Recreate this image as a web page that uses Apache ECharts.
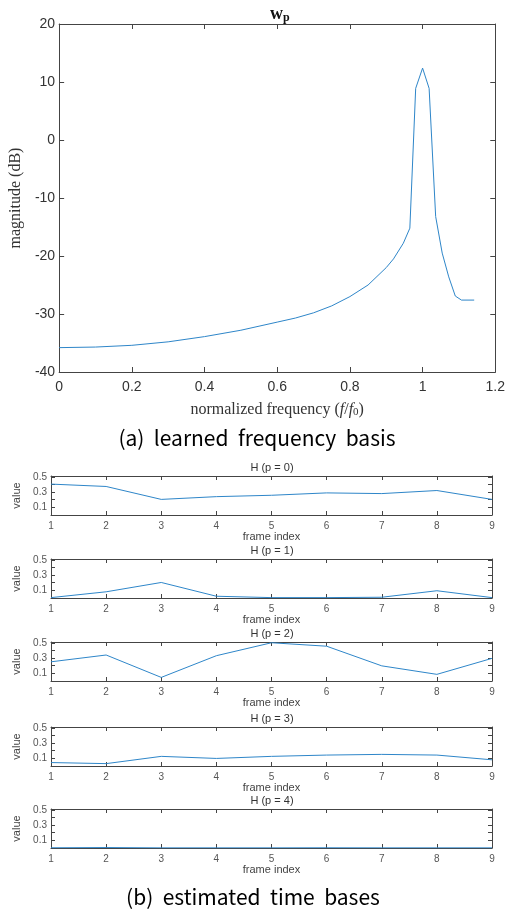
<!DOCTYPE html>
<html>
<head>
<meta charset="utf-8">
<script src="https://cdn.jsdelivr.net/npm/echarts@6/dist/echarts.min.js"></script>
<style>
  html, body { margin: 0; padding: 0; background: #fff; }
  #main { width: 508px; height: 912px; }
</style>
</head>
<body>
<div id="main"></div>
<script>
// (a) learned frequency basis
var freq = [0, 0.1, 0.2, 0.3, 0.4, 0.5, 0.55, 0.6, 0.65, 0.7, 0.75, 0.8, 0.85, 0.9, 0.92, 0.947, 0.965,
            0.981, 1.0, 1.018, 1.036, 1.054, 1.072, 1.09, 1.107, 1.125, 1.142];
var magDb = [-35.8, -35.7, -35.4, -34.8, -33.9, -32.8, -32.1, -31.4, -30.7, -29.8, -28.6, -27.0, -25.0, -22.0, -20.5, -17.8, -15.2,
             8.9, 12.4, 8.9, -13.2, -19.5, -23.6, -26.9, -27.6, -27.6, -27.6];
var freqTicks = [0, 0.2, 0.4, 0.6, 0.8, 1, 1.2];
var magTicks = [-40, -30, -20, -10, 0, 10, 20];

// (b) estimated time bases
var frames = [1, 2, 3, 4, 5, 6, 7, 8, 9];
var H0 = [0.404, 0.373, 0.204, 0.24, 0.258, 0.289, 0.28, 0.32, 0.204];
var H1 = [0.005, 0.081, 0.203, 0.023, 0.005, 0.005, 0.01, 0.095, 0.005];
var H2 = [0.251, 0.34, 0.047, 0.331, 0.5, 0.455, 0.198, 0.087, 0.296];
var H3 = [0.045, 0.031, 0.126, 0.099, 0.126, 0.143, 0.152, 0.143, 0.081];
var H4 = [0.003, 0.006, 0.002, 0.002, 0.002, 0.003, 0.002, 0.002, 0.002];
var valueTicks = [0.1, 0.3, 0.5];
var hList = [H0, H1, H2, H3, H4];
var hTitles = ['H (p = 0)', 'H (p = 1)', 'H (p = 2)', 'H (p = 3)', 'H (p = 4)'];

var lineColor = '#2e86c9';
var axisColor = '#444';
var textColor = '#333';
var sans = "'Liberation Sans', Arial, sans-serif";
var serif = "'Liberation Serif', 'Times New Roman', serif";

var grids = [], xAxes = [], yAxes = [], series = [], graphics = [];

function pairs(xs, ys) {
    var out = [];
    for (var i = 0; i < xs.length; i++) out.push([xs[i], ys[i]]);
    return out;
}

function addAxes(gi, xo, yo) {
    // bottom / left axes with labels, top / right mirrors with ticks only (box look)
    var xb = Object.assign({ gridIndex: gi, type: 'value', position: 'bottom' }, xo);
    var xt = Object.assign({}, xb, { position: 'top', name: '', axisLabel: { show: false } });
    var yl = Object.assign({ gridIndex: gi, type: 'value', position: 'left' }, yo);
    var yr = Object.assign({}, yl, { position: 'right', name: '', axisLabel: { show: false } });
    xAxes.push(xb, xt);
    yAxes.push(yl, yr);
}

function common(tickLen) {
    return {
        axisLine: { show: true, onZero: false, lineStyle: { color: axisColor, width: 1 } },
        axisTick: { show: true, inside: true, length: tickLen, lineStyle: { color: axisColor } },
        splitLine: { show: false }
    };
}

// top plot
grids.push({ left: 57, top: 24, width: 441, height: 348 });
addAxes(0,
    Object.assign(common(5), {
        min: 0, max: 1.2, interval: 0.2,
        axisLabel: { color: textColor, fontSize: 14, fontFamily: sans, margin: 8,
            formatter: function (v) { var r = Math.round(v * 10) / 10; return freqTicks.indexOf(r) >= 0 ? String(r) : ''; } },
        name: 'normalized frequency ({i|f}/{i|f}{s|0})',
        nameLocation: 'middle', nameGap: 29,
        nameTextStyle: { color: textColor, fontSize: 16, fontFamily: serif,
            rich: { i: { fontStyle: 'italic', fontSize: 16, fontFamily: serif, color: textColor },
                    s: { fontSize: 11, fontFamily: serif, color: textColor, verticalAlign: 'bottom', padding: [6, 0, 0, 0] } } }
    }),
    Object.assign(common(5), {
        min: -40, max: 20, interval: 10,
        axisLabel: { color: textColor, fontSize: 14, fontFamily: sans, margin: 4,
            formatter: function (v) { return magTicks.indexOf(v) >= 0 ? String(v) : ''; } },
        name: 'magnitude (dB)', nameLocation: 'middle', nameGap: 35,
        nameTextStyle: { color: textColor, fontSize: 16, fontFamily: serif }
    })
);
series.push({
    type: 'line', xAxisIndex: 0, yAxisIndex: 0, data: pairs(freq, magDb),
    symbol: 'none', lineStyle: { color: lineColor, width: 1 }
});
graphics.push({
    type: 'text', x: 270, y: 4,
    style: { text: '{w|w}{p|p}',
        rich: { w: { fontFamily: serif, fontWeight: 'bold', fontSize: 18, fill: '#111' },
                p: { fontFamily: serif, fontWeight: 'bold', fontSize: 12, fill: '#111', verticalAlign: 'bottom', padding: [8, 0, 0, 0] } } }
});

// bottom five panels
var panelTops = [476, 559, 642, 727, 809];
for (var k = 0; k < hList.length; k++) {
    var gi = k + 1;
    grids.push({ left: 51, top: panelTops[k], width: 441, height: 39 });
    addAxes(gi,
        Object.assign(common(4), {
            min: 1, max: 9, interval: 1,
            axisLabel: { color: '#555', fontSize: 10, fontFamily: sans, margin: 6 },
            name: 'frame index', nameLocation: 'middle', nameGap: 15,
            nameTextStyle: { color: '#444', fontSize: 11, fontFamily: sans }
        }),
        Object.assign(common(4), {
            min: 0, max: 0.51, interval: 0.1,
            axisLabel: { color: '#555', fontSize: 10, fontFamily: sans, margin: 4,
                formatter: function (v) { var r = Math.round(v * 100) / 100; return valueTicks.indexOf(r) >= 0 ? String(r) : ''; } },
            name: 'value', nameLocation: 'middle', nameGap: 23,
            nameTextStyle: { color: '#444', fontSize: 11, fontFamily: sans }
        })
    );
    series.push({
        type: 'line', xAxisIndex: 2 * gi, yAxisIndex: 2 * gi, data: pairs(frames, hList[k]),
        symbol: 'none', lineStyle: { color: lineColor, width: 1 }
    });
    graphics.push({
        type: 'text', x: 272, y: panelTops[k] - 8,
        style: { text: hTitles[k], fontSize: 11, fontFamily: sans, fill: '#333', textAlign: 'center', textVerticalAlign: 'middle' }
    });
}

// captions
graphics.push({
    type: 'text', x: 257, y: 438,
    style: { text: '(a)  learned  frequency  basis', fontSize: 21, fontFamily: "'Noto Sans CJK KR', sans-serif", fill: '#000', textAlign: 'center', textVerticalAlign: 'middle' }
});
graphics.push({
    type: 'text', x: 253, y: 897,
    style: { text: '(b)  estimated  time  bases', fontSize: 21, fontFamily: "'Noto Sans CJK KR', sans-serif", fill: '#000', textAlign: 'center', textVerticalAlign: 'middle' }
});

var myChart = echarts.init(document.getElementById('main'));
var option = {
    animation: false,
    backgroundColor: '#fff',
    grid: grids,
    xAxis: xAxes,
    yAxis: yAxes,
    series: series,
    graphic: graphics
};
myChart.setOption(option);
</script>
</body>
</html>
